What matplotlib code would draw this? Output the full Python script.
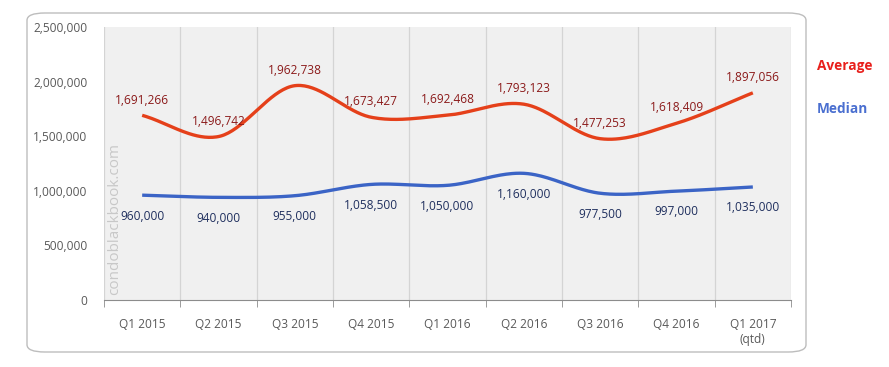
import numpy as np
import matplotlib.pyplot as plt
from matplotlib import ticker as mticker
from matplotlib.patches import FancyBboxPatch

# ----------------- data -----------------
QUARTERS = ["Q1 2015", "Q2 2015", "Q3 2015", "Q4 2015", "Q1 2016",
            "Q2 2016", "Q3 2016", "Q4 2016", "Q1 2017\n(qtd)"]
AVERAGE = [1691266, 1496742, 1962738, 1673427, 1692468,
           1793123, 1477253, 1618409, 1897056]
MEDIAN = [960000, 940000, 955000, 1058500, 1050000,
          1160000, 977500, 997000, 1035000]

RED = "#E5401A"
BLUE = "#3B64C6"
RED_TXT = "#8B1A1A"
BLUE_TXT = "#1F2F5E"
GRAY_TXT = "#595959"


def smooth(x, y, n=40):
    """Catmull-Rom curve through the points (like Excel's smoothed line)."""
    x = np.asarray(x, float)
    y = np.asarray(y, float)
    px = np.concatenate([[2 * x[0] - x[1]], x, [2 * x[-1] - x[-2]]])
    py = np.concatenate([[2 * y[0] - y[1]], y, [2 * y[-1] - y[-2]]])
    xs, ys = [], []
    t = np.linspace(0, 1, n)
    for i in range(1, len(px) - 2):
        for arr, out in ((px, xs), (py, ys)):
            p0, p1, p2, p3 = arr[i - 1], arr[i], arr[i + 1], arr[i + 2]
            out.append(0.5 * ((2 * p1) + (-p0 + p2) * t
                              + (2 * p0 - 5 * p1 + 4 * p2 - p3) * t ** 2
                              + (-p0 + 3 * p1 - 3 * p2 + p3) * t ** 3))
    return np.concatenate(xs), np.concatenate(ys)


plt.rcParams["font.family"] = ["Open Sans", "DejaVu Sans"]

fig = plt.figure(figsize=(8.89, 3.67), dpi=100)
fig.patch.set_facecolor("white")

# rounded frame around the chart
frame = FancyBboxPatch((27 / 889, 15 / 367), 779 / 889, 339 / 367,
                       boxstyle="round,pad=0,rounding_size=0.02",
                       transform=fig.transFigure, facecolor="none",
                       edgecolor="#BDBDBD", lw=1.0, zorder=-1)
fig.patches.append(frame)

ax = fig.add_axes([104 / 889, 1 - 300 / 367, 687 / 889, 273 / 367])
ax.set_facecolor("#F0F0F0")

x = np.arange(len(QUARTERS))
sx, sy = smooth(x, AVERAGE)
ax.plot(sx, sy, color=RED, lw=2.4, solid_capstyle="butt", zorder=3)
sx, sy = smooth(x, MEDIAN)
ax.plot(sx, sy, color=BLUE, lw=2.4, solid_capstyle="butt", zorder=3)

for xi, v in zip(x, AVERAGE):
    ax.annotate(f"{v:,}", (xi, v), xytext=(0, 11), textcoords="offset points",
                ha="center", va="center", fontsize=8.6, color=RED_TXT, zorder=4)
for xi, v in zip(x, MEDIAN):
    ax.annotate(f"{v:,}", (xi, v), xytext=(0, -15), textcoords="offset points",
                ha="center", va="center", fontsize=8.6, color=BLUE_TXT, zorder=4)

ax.set_xlim(-0.5, len(QUARTERS) - 0.5)
ax.set_ylim(0, 2500000)
ax.yaxis.set_major_locator(mticker.MultipleLocator(500000))
ax.yaxis.set_major_formatter(mticker.FuncFormatter(lambda v, _: f"{int(v):,}"))
ax.tick_params(axis="y", length=0, labelsize=8.6, labelcolor=GRAY_TXT, pad=12)

ax.set_xticks(x)
ax.set_xticklabels(QUARTERS, fontsize=8.6, color=GRAY_TXT, linespacing=1.2)
ax.tick_params(axis="x", which="major", length=0, pad=13)
ax.set_xticks(np.arange(-0.5, len(QUARTERS)), minor=True)
ax.tick_params(axis="x", which="minor", length=5, color="#8C8C8C", direction="out")
ax.grid(True, axis="x", which="minor", color="#D4D4D4", lw=0.9)
ax.grid(False, axis="x", which="major")
ax.set_axisbelow(True)

for side in ("top", "right", "left"):
    ax.spines[side].set_visible(False)
ax.spines["bottom"].set_color("#8C8C8C")

# watermark
ax.text(0.005, 0.02, "condoblackbook.com", transform=ax.transAxes, rotation=90,
        ha="left", va="bottom", fontsize=11, color="#C8C8C8", zorder=2)

# legend
fig.text(817 / 889, 1 - 66 / 367, "Average", color="#E8201C", fontsize=9.8,
         fontweight="bold", ha="left", va="center")
fig.text(817 / 889, 1 - 109 / 367, "Median", color="#4A6FD0", fontsize=9.8,
         fontweight="bold", ha="left", va="center")

fig.savefig("out.png", dpi=100, facecolor="white")
